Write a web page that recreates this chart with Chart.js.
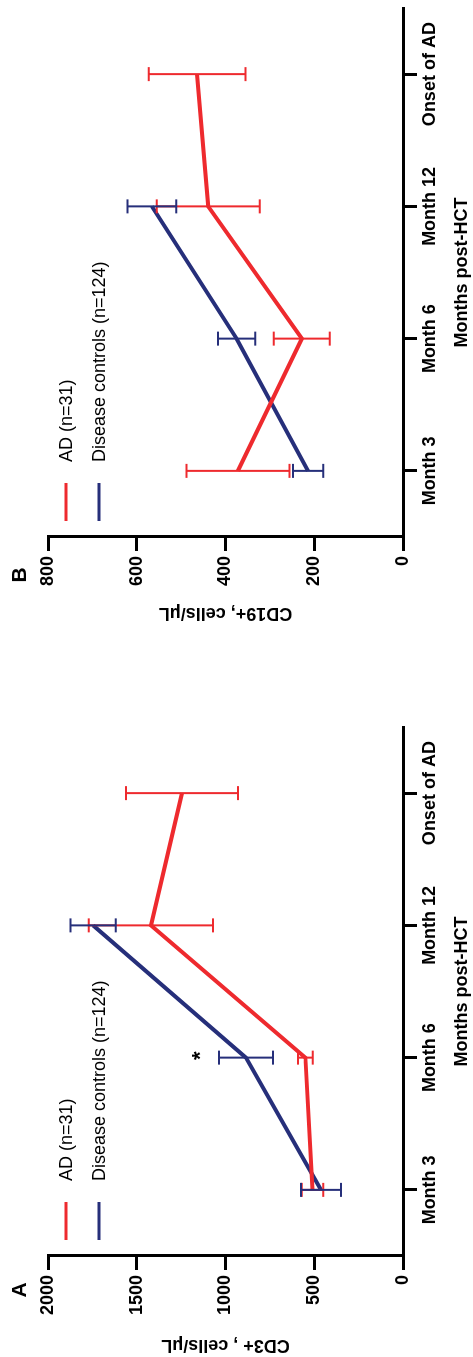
<!DOCTYPE html>
<html>
<head>
<meta charset="utf-8">
<script src="https://cdn.jsdelivr.net/npm/chart.js@4.4.1/dist/chart.umd.min.js"></script>
<style>
  body { margin: 0; background: #fff; overflow: hidden; }
  /* the figure is laid out landscape and turned a quarter counter-clockwise */
  #figure {
    position: absolute; left: 0; top: 0;
    width: 1357px; height: 473px;
    transform-origin: 0 0;
    transform: translateY(1357px) rotate(-90deg);
  }
  #panelA { position: absolute; left: 0; top: 0; }
  #panelB { position: absolute; left: 680px; top: 0; }
</style>
</head>
<body>
<div id="figure">
  <canvas id="panelA" width="680" height="473"></canvas>
  <canvas id="panelB" width="677" height="473"></canvas>
</div>
<script>
const months = ["Month 3", "Month 6", "Month 12", "Onset of AD"];

// panel A - CD3+
const cd3AD = [510, 550, 1420, 1245];
const cd3ADErr = [60, 42, 350, 315];
const cd3Ctrl = [462, 885, 1746, null];
const cd3CtrlErr = [112, 152, 127, null];

// panel B - CD19+
const cd19AD = [372, 228, 439, 464];
const cd19ADErr = [116, 63, 116, 109];
const cd19Ctrl = [214, 375, 566, null];
const cd19CtrlErr = [34, 42, 55, null];

const red = "#ee2a2e";
const blue = "#262f7a";
const font = "'Liberation Sans', Arial, sans-serif";

const errorBars = {
  id: "errorBars",
  afterDatasetsDraw(chart) {
    const ctx = chart.ctx;
    const y = chart.scales.y;
    chart.data.datasets.forEach((ds, i) => {
      const meta = chart.getDatasetMeta(i);
      ctx.save();
      ctx.strokeStyle = ds.borderColor;
      ctx.lineWidth = 2;
      ds.errors.forEach((e, j) => {
        if (e == null || ds.data[j] == null) return;
        const px = meta.data[j].x;
        const hi = y.getPixelForValue(ds.data[j] + e);
        const lo = y.getPixelForValue(ds.data[j] - e);
        ctx.beginPath();
        ctx.moveTo(px, hi); ctx.lineTo(px, lo);
        ctx.moveTo(px - 7, hi); ctx.lineTo(px + 7, hi);
        ctx.moveTo(px - 7, lo); ctx.lineTo(px + 7, lo);
        ctx.stroke();
      });
      ctx.restore();
    });
  },
};

const extras = {
  id: "extras",
  afterDraw(chart, args, opts) {
    const ctx = chart.ctx;
    const area = chart.chartArea;
    ctx.save();
    // legend
    chart.data.datasets.forEach((ds, i) => {
      const row = area.top + 18 + i * 33;
      ctx.strokeStyle = ds.borderColor;
      ctx.lineWidth = 3;
      ctx.beginPath();
      ctx.moveTo(area.left + 16, row);
      ctx.lineTo(area.left + 54, row);
      ctx.stroke();
      ctx.fillStyle = "#000";
      ctx.font = "18px " + font;
      ctx.textAlign = "left";
      ctx.textBaseline = "middle";
      ctx.fillText(ds.label, area.left + 75, row + 1);
    });
    // panel letter
    ctx.font = "bold 21px " + font;
    ctx.textAlign = "center";
    ctx.textBaseline = "middle";
    ctx.fillText(opts.letter, opts.letterX, 20);
    // significance mark
    if (opts.star) {
      const x = chart.scales.x.getPixelForValue(months.indexOf(opts.star.cat));
      const y = chart.scales.y.getPixelForValue(opts.star.value);
      ctx.font = "bold 22px " + font;
      ctx.fillText("*", x + 2, y);
    }
    ctx.restore();
  },
};

function showChart(id, ad, adErr, ctrl, ctrlErr, yMax, yStep, yTitle, pad, titlePad, extraOpts) {
  const ctx = document.getElementById(id);
  new Chart(ctx, {
    type: "line",
    data: {
      labels: months,
      datasets: [
        { label: "AD (n=31)", data: ad, errors: adErr, borderColor: red, borderWidth: 4, pointRadius: 0, tension: 0 },
        { label: "Disease controls (n=124)", data: ctrl, errors: ctrlErr, borderColor: blue, borderWidth: 4, pointRadius: 0, tension: 0 },
      ],
    },
    options: {
      responsive: false,
      animation: false,
      devicePixelRatio: 1,
      layout: { padding: pad },
      plugins: { legend: { display: false }, tooltip: { enabled: false }, extras: extraOpts },
      scales: {
        x: {
          offset: true,
          grid: { drawOnChartArea: false, offset: false, tickLength: 14, tickWidth: 3, color: "#000" },
          border: { width: 3, color: "#000" },
          ticks: { color: "#000", font: { family: font, size: 18, weight: "bold" }, maxRotation: 0, autoSkip: false, padding: 2 },
          title: { display: true, text: "Months post-HCT", color: "#000", font: { family: font, size: 18, weight: "bold" }, padding: 0 },
          afterFit: (s) => { s.height = 70; },
        },
        y: {
          min: 0,
          max: yMax,
          grid: { drawOnChartArea: false, tickLength: 14, tickWidth: 3, color: "#000" },
          border: { width: 3, color: "#000" },
          ticks: { stepSize: yStep, color: "#000", font: { family: font, size: 18, weight: "bold" }, padding: 5, callback: (v) => String(v) },
          title: { display: true, text: yTitle, color: "#000", font: { family: font, size: 18, weight: "bold" }, padding: { top: titlePad, bottom: 0 } },
          afterFit: (s) => { s.width = 101; },
        },
      },
    },
    plugins: [errorBars, extras],
  });
}

showChart("panelA", cd3AD, cd3ADErr, cd3Ctrl, cd3CtrlErr, 2000, 500, "CD3+ , cells/μL",
  { left: 0, right: 50, top: 48, bottom: 0 }, 1,
  { letter: "A", letterX: 67, star: { cat: "Month 6", value: 1140 } });

showChart("panelB", cd19AD, cd19ADErr, cd19Ctrl, cd19CtrlErr, 800, 200, "CD19+, cells/μL",
  { left: 39, right: 8, top: 48, bottom: 0 }, 14,
  { letter: "B", letterX: 102 });
</script>
</body>
</html>
